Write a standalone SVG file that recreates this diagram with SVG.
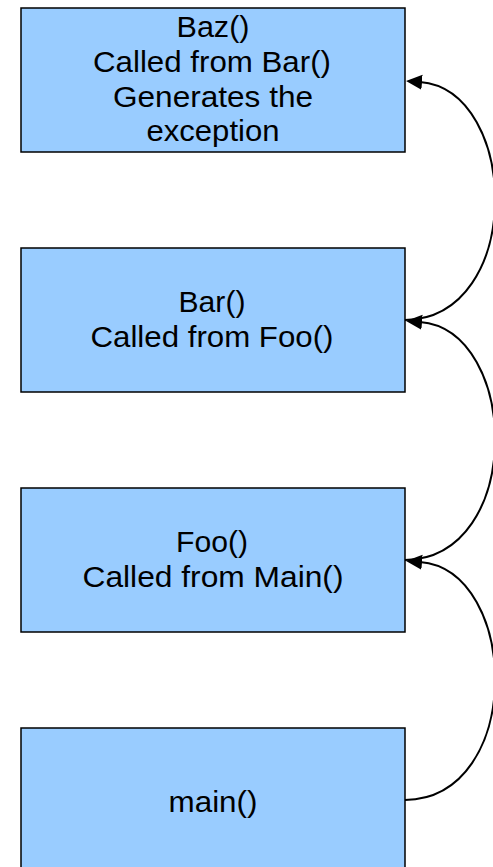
<svg xmlns="http://www.w3.org/2000/svg" width="493" height="867" viewBox="0 0 493 867">
<style>
.box{fill:#99CCFF;stroke:#000;stroke-width:1.5}
.t{font-family:"Liberation Sans",Arial,sans-serif;font-size:30px;fill:#000;text-anchor:middle}
.c{fill:none;stroke:#000;stroke-width:2}
</style>
<defs>
<marker id="ah" markerUnits="userSpaceOnUse" markerWidth="18" markerHeight="18" refX="2" refY="7.5" orient="auto">
<path d="M0,0 L16,7.5 L0,15 Z" fill="#000"/>
</marker>
</defs>
<rect width="493" height="867" fill="#fff"/>
<g id="baz">
<rect class="box" x="21" y="8" width="384" height="144"/>
<text class="t" x="213" y="37" textLength="73" lengthAdjust="spacingAndGlyphs">Baz()</text>
<text class="t" x="212" y="72" textLength="238" lengthAdjust="spacingAndGlyphs">Called from Bar()</text>
<text class="t" x="213" y="107" textLength="200" lengthAdjust="spacingAndGlyphs">Generates the</text>
<text class="t" x="213" y="141" textLength="133" lengthAdjust="spacingAndGlyphs">exception</text>
</g>
<g id="bar">
<rect class="box" x="21" y="248" width="384" height="144"/>
<text class="t" x="212" y="312" textLength="67" lengthAdjust="spacingAndGlyphs">Bar()</text>
<text class="t" x="212" y="347" textLength="243" lengthAdjust="spacingAndGlyphs">Called from Foo()</text>
</g>
<g id="foo">
<rect class="box" x="21" y="488" width="384" height="144"/>
<text class="t" x="212" y="552" textLength="72" lengthAdjust="spacingAndGlyphs">Foo()</text>
<text class="t" x="213" y="587" textLength="261" lengthAdjust="spacingAndGlyphs">Called from Main()</text>
</g>
<g id="main">
<rect class="box" x="21" y="728" width="384" height="150"/>
<text class="t" x="213" y="812" textLength="89" lengthAdjust="spacingAndGlyphs">main()</text>
</g>
<g id="connectors">
<path class="c" d="M405,320 C525,318 520,90 420,82" marker-end="url(#ah)"/>
<path class="c" d="M405,560 C525,558 520,330 420,322" marker-end="url(#ah)"/>
<path class="c" d="M405,800 C525,798 520,570 420,562" marker-end="url(#ah)"/>
</g>
</svg>
